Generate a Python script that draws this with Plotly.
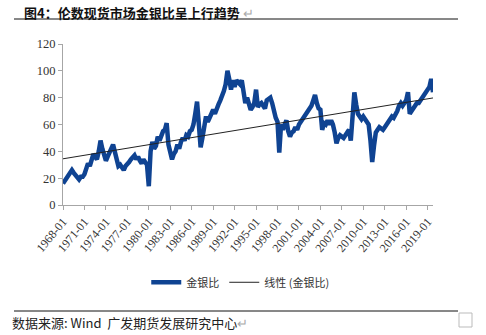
import numpy as np
import pandas as pd
import plotly.graph_objects as go

# Quarterly gold/silver ratio (Jan, Apr, Jul, Oct) per year
years = list(range(1968, 2020))
ratio = [
    16, 18, 20, 21,   # 1968
    24, 26, 24, 22,   # 1969
    20, 19, 21, 21,   # 1970
    23, 27, 31, 29,   # 1971
    33, 38, 36, 34,   # 1972
    40, 48, 42, 38,   # 1973
    33, 36, 40, 42,   # 1974
    45, 40, 34, 29,   # 1975
    30, 27, 26, 29,   # 1976
    30, 32, 34, 35,   # 1977
    37, 34, 36, 33,   # 1978
    31, 34, 32, 30,   # 1979
    14, 40, 47, 42,   # 1980
    44, 51, 48, 52,   # 1981
    55, 56, 61, 45,   # 1982
    40, 34, 38, 40,   # 1983
    45, 42, 47, 50,   # 1984
    48, 52, 51, 55,   # 1985
    56, 60, 68, 77,   # 1986
    60, 43, 50, 58,   # 1987
    66, 62, 65, 68,   # 1988
    71, 68, 73, 75,   # 1989
    78, 81, 85, 90,   # 1990
    100, 94, 86, 93,  # 1991
    88, 93, 91, 90,   # 1992
    93, 82, 76, 80,   # 1993
    75, 71, 73, 76,   # 1994
    86, 73, 75, 76,   # 1995
    74, 72, 78, 79,   # 1996
    80, 76, 70, 65,   # 1997
    62, 39, 60, 56,   # 1998
    60, 63, 55, 51,   # 1999
    54, 55, 58, 56,   # 2000
    60, 62, 64, 65,   # 2001
    68, 70, 72, 74,   # 2002
    78, 82, 76, 72,   # 2003
    71, 56, 61, 60,   # 2004
    63, 60, 63, 60,   # 2005
    54, 46, 50, 52,   # 2006
    51, 50, 52, 54,   # 2007
    56, 48, 62, 84,   # 2008
    75, 68, 66, 64,   # 2009
    66, 64, 62, 60,   # 2010
    48, 32, 44, 54,   # 2011
    56, 58, 57, 56,   # 2012
    58, 60, 63, 64,   # 2013
    66, 65, 67, 70,   # 2014
    74, 76, 74, 76,   # 2015
    78, 84, 68, 70,   # 2016
    72, 74, 76, 76,   # 2017
    78, 80, 83, 85,   # 2018
    86, 88, 94, 84,   # 2019
]
months = [1, 4, 7, 10]
dates = pd.to_datetime([f"{y}-{m:02d}-01" for y in years for m in months])

tick_years = list(range(1968, 2020, 3))
tick_vals = pd.to_datetime([f"{y}-01-01" for y in tick_years])
tick_text = [f"{y}-01" for y in tick_years]

# linear trend (Excel-style) over the series index
idx = np.arange(len(ratio))
slope, intercept = np.polyfit(idx, ratio, 1)
trend = slope * idx + intercept

blue = "#0F4392"

fig = go.Figure()
fig.add_trace(go.Scatter(x=dates, y=ratio, mode="lines", name="金银比",
                         line=dict(color=blue, width=4.5)))
fig.add_trace(go.Scatter(x=dates, y=trend, mode="lines", name="线性 (金银比)",
                         line=dict(color="#222222", width=1)))

serif = "Liberation Serif, Times New Roman, serif"
fig.update_layout(
    width=486, height=335,
    margin=dict(l=63, r=53, t=44, b=130),
    paper_bgcolor="white", plot_bgcolor="white",
    showlegend=True,
    legend=dict(orientation="h", x=0.225, y=-0.48, xanchor="left", yanchor="middle",
                font=dict(family="Noto Sans CJK SC", size=11, color="#333333"),
                itemwidth=30, tracegroupgap=0),
    xaxis=dict(type="date", range=[dates[0], dates[-1]],
               tickmode="array", tickvals=tick_vals, ticktext=tick_text,
               tickangle=-50, tickfont=dict(family=serif, size=12, color="#333333"),
               showgrid=False, zeroline=False,
               showline=True, linecolor="#A6A6A6", linewidth=1,
               ticks="outside", ticklen=4, tickcolor="#A6A6A6"),
    yaxis=dict(range=[0, 120], dtick=20, tickfont=dict(family=serif, size=12.5, color="#333333"),
               showgrid=False, zeroline=False,
               showline=True, linecolor="#A6A6A6", linewidth=1,
               ticks="outside", ticklen=4, tickcolor="#A6A6A6"),
)

# title and rules
fig.add_annotation(xref="paper", yref="paper", x=(22-63)/370, y=(205-12)/161,
                   xanchor="left", yanchor="middle", showarrow=False,
                   text="<b>图4：伦数现货市场金银比呈上行趋势</b> <span style='color:#AAAAAA'>↵</span>",
                   font=dict(family="Noto Sans CJK SC", size=13, color="#111111"))
fig.add_shape(type="line", xref="paper", yref="paper",
              x0=(14-63)/370, x1=(458-63)/370, y0=(205-19)/161, y1=(205-19)/161,
              line=dict(color="#111111", width=1))
fig.add_shape(type="line", xref="paper", yref="paper",
              x0=(14-63)/370, x1=(458-63)/370, y0=(205-311)/161, y1=(205-311)/161,
              line=dict(color="#111111", width=1))
fig.add_annotation(xref="paper", yref="paper", x=(10-63)/370, y=(205-322)/161,
                   xanchor="left", yanchor="middle", showarrow=False,
                   text="数据来源: Wind  广发期货发展研究中心<span style='color:#AAAAAA'>↵</span>",
                   font=dict(family="Noto Sans CJK SC", size=13, color="#222222"))
fig.add_shape(type="rect", xref="paper", yref="paper",
              x0=(459-63)/370, x1=(472-63)/370, y0=(205-313)/161, y1=(205-327)/161,
              line=dict(color="#BBBBBB", width=1))

fig.write_html("out.html")
